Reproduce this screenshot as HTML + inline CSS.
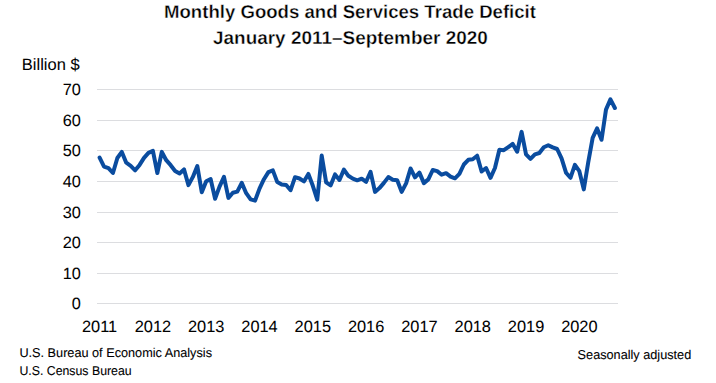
<!DOCTYPE html>
<html><head><meta charset="utf-8"><style>
html,body{margin:0;padding:0;background:#fff;width:716px;height:383px;overflow:hidden}
svg{display:block}
text{font-family:"Liberation Sans",sans-serif;fill:#000;text-rendering:geometricPrecision}
.ti{font-weight:bold;font-size:18.6px;stroke:#fff;stroke-width:0.35px}
.ax{font-size:16.3px;fill:#000;stroke:#000;stroke-width:0.05px}
.bl{font-size:16.4px;fill:#000;stroke:#000;stroke-width:0.05px}
.ft{font-size:12.8px;fill:#000;stroke:#000;stroke-width:0.1px}
</style></head><body>
<svg width="716" height="383" viewBox="0 0 716 383">
<rect width="716" height="383" fill="#fff"/>
<text transform="translate(164.00,18) scale(1.0000,1)" class="ti">Monthly Goods and Services Trade Deficit</text>
<text transform="translate(213.00,43.6) scale(1.0186,1)" class="ti">January 2011–September 2020</text>
<text transform="translate(21.79,69.6) scale(1.0071,1)" class="bl">Billion $</text>
<rect x="97" y="89" width="521" height="1" fill="#dcdde0"/>
<rect x="97" y="120" width="521" height="1" fill="#dcdde0"/>
<rect x="97" y="150" width="521" height="1" fill="#dcdde0"/>
<rect x="97" y="181" width="521" height="1" fill="#dcdde0"/>
<rect x="97" y="212" width="521" height="1" fill="#dcdde0"/>
<rect x="97" y="242" width="521" height="1" fill="#dcdde0"/>
<rect x="97" y="273" width="521" height="1" fill="#dcdde0"/>
<rect x="97" y="303" width="521" height="1" fill="#dcdde0"/>
<text transform="translate(80.9,94.7) scale(1.0,1)" text-anchor="end" class="ax">70</text>
<text transform="translate(80.9,125.7) scale(1.0,1)" text-anchor="end" class="ax">60</text>
<text transform="translate(80.9,155.7) scale(1.0,1)" text-anchor="end" class="ax">50</text>
<text transform="translate(80.9,186.7) scale(1.0,1)" text-anchor="end" class="ax">40</text>
<text transform="translate(80.9,217.7) scale(1.0,1)" text-anchor="end" class="ax">30</text>
<text transform="translate(80.9,247.7) scale(1.0,1)" text-anchor="end" class="ax">20</text>
<text transform="translate(80.9,278.7) scale(1.0,1)" text-anchor="end" class="ax">10</text>
<text transform="translate(80.9,308.7) scale(1.0,1)" text-anchor="end" class="ax">0</text>

<text transform="translate(99.60,332) scale(1.005,1)" text-anchor="middle" class="ax">2011</text>
<text transform="translate(152.90,332) scale(1.005,1)" text-anchor="middle" class="ax">2012</text>
<text transform="translate(206.21,332) scale(1.005,1)" text-anchor="middle" class="ax">2013</text>
<text transform="translate(259.51,332) scale(1.005,1)" text-anchor="middle" class="ax">2014</text>
<text transform="translate(312.82,332) scale(1.005,1)" text-anchor="middle" class="ax">2015</text>
<text transform="translate(366.12,332) scale(1.005,1)" text-anchor="middle" class="ax">2016</text>
<text transform="translate(419.42,332) scale(1.005,1)" text-anchor="middle" class="ax">2017</text>
<text transform="translate(472.73,332) scale(1.005,1)" text-anchor="middle" class="ax">2018</text>
<text transform="translate(526.03,332) scale(1.005,1)" text-anchor="middle" class="ax">2019</text>
<text transform="translate(579.34,332) scale(1.005,1)" text-anchor="middle" class="ax">2020</text>

<polyline points="99.60,157.60 104.04,166.60 108.48,168.20 112.93,173.00 117.37,158.00 121.81,151.90 126.25,162.70 130.69,165.80 135.14,170.30 139.58,164.90 144.02,157.90 148.46,152.90 152.90,150.90 157.35,173.00 161.79,151.90 166.23,160.20 170.67,165.20 175.11,170.90 179.56,173.40 184.00,169.40 188.44,185.10 192.88,176.90 197.32,166.10 201.77,192.20 206.21,181.20 210.65,179.10 215.09,198.70 219.53,186.60 223.98,176.80 228.42,197.90 232.86,192.70 237.30,191.60 241.74,182.80 246.19,193.20 250.63,199.40 255.07,200.60 259.51,188.60 263.95,179.20 268.40,172.10 272.84,170.40 277.28,182.10 281.72,184.60 286.16,185.00 290.61,190.20 295.05,177.20 299.49,178.50 303.93,181.40 308.37,173.90 312.82,185.80 317.26,199.70 321.70,155.60 326.14,182.40 330.58,185.40 335.03,174.40 339.47,180.00 343.91,169.60 348.35,175.80 352.79,178.60 357.24,180.30 361.68,178.70 366.12,181.80 370.56,171.90 375.00,191.90 379.45,188.10 383.89,182.90 388.33,177.10 392.77,179.70 397.21,180.30 401.66,191.90 406.10,183.40 410.54,168.50 414.98,177.30 419.42,172.60 423.87,183.10 428.31,179.40 432.75,170.00 437.19,171.10 441.63,174.70 446.08,173.20 450.52,176.60 454.96,178.30 459.40,173.90 463.84,164.50 468.29,159.80 472.73,159.20 477.17,155.70 481.61,171.50 486.05,168.00 490.50,177.80 494.94,168.00 499.38,149.80 503.82,150.20 508.26,147.20 512.71,143.90 517.15,151.70 521.59,131.90 526.03,154.30 530.47,158.90 534.92,154.30 539.36,153.00 543.80,147.20 548.24,145.20 552.68,147.40 557.13,149.00 561.57,158.40 566.01,172.70 570.45,177.80 574.89,164.80 579.34,171.20 583.78,189.40 588.22,162.40 592.66,137.90 597.10,128.40 601.55,139.80 605.99,109.60 610.43,99.40 614.87,108.00" fill="none" stroke="#0a4c9f" stroke-width="4" stroke-linejoin="round" stroke-linecap="round"/>
<text transform="translate(19.41,356.8) scale(0.9917,1)" class="ft">U.S. Bureau of Economic Analysis</text>
<text transform="translate(19.44,375) scale(0.9617,1)" class="ft">U.S. Census Bureau</text>
<text transform="translate(577.60,359) scale(0.9921,1)" class="ft">Seasonally adjusted</text>
</svg>
</body></html>
